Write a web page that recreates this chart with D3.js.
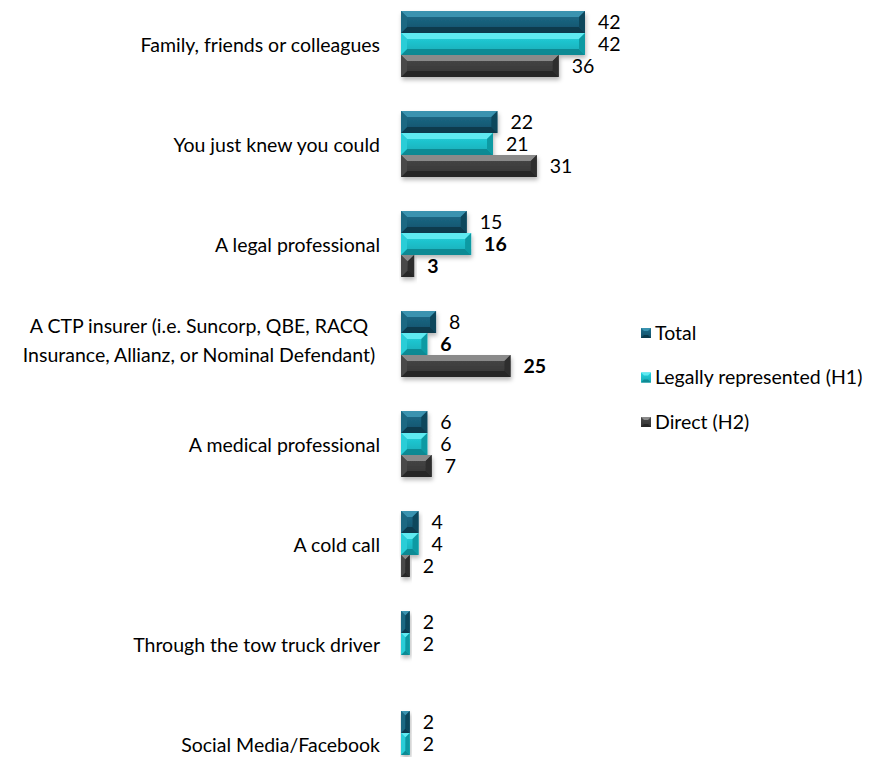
<!DOCTYPE html>
<html>
<head>
<meta charset="utf-8">
<script src="https://cdn.jsdelivr.net/npm/d3@7"></script>
<style>
  html, body { margin: 0; padding: 0; background: #ffffff; }
  svg { display: block; font-family: Lato, "Open Sans", sans-serif; }
</style>
</head>
<body>
<svg id="chart" width="873" height="757"></svg>
<script>
// Source of referral to a claim, by respondent group (%)
const categories = [
  "Family, friends or colleagues",
  "You just knew you could",
  "A legal professional",
  "A CTP insurer (i.e. Suncorp, QBE, RACQ\nInsurance, Allianz, or Nominal Defendant)",
  "A medical professional",
  "A cold call",
  "Through the tow truck driver",
  "Social Media/Facebook"
];
const seriesNames = ["Total", "Legally represented (H1)", "Direct (H2)"];
const totalValues  = [42, 22, 15, 8, 6, 4, 2, 2];
const legalValues  = [42, 21, 16, 6, 6, 4, 2, 2];
const directValues = [36, 31, 3, 25, 7, 2, null, null];
// significant differences between H1 and H2 are shown in bold
const legalBold  = [false, false, true, true, false, false, false, false];
const directBold = [false, false, true, true, false, false, false, false];

const seriesValues = [totalValues, legalValues, directValues];
const seriesBold = [categories.map(() => false), legalBold, directBold];

const FONT = 19.5;

// bevel palettes: face top/bottom gradient, light top edge, dark bottom edge, side edges
const palettes = [
  { faceTop: "#1f6f8c", faceBot: "#12506a", top: "#3a93b0", bottom: "#0b3a4d", left: "#1a6882", right: "#0e465c" },
  { faceTop: "#25d4de", faceBot: "#15a9b4", top: "#5eeaf1", bottom: "#0e8a94", left: "#2ccdd7", right: "#119aa3" },
  { faceTop: "#4a4a4a", faceBot: "#333333", top: "#8a8a8a", bottom: "#262626", left: "#4a4a4a", right: "#2d2d2d" }
];

const svg = d3.select("#chart");
const defs = svg.append("defs");

palettes.forEach((p, i) => {
  const g = defs.append("linearGradient").attr("id", "face" + i)
    .attr("x1", 0).attr("y1", 0).attr("x2", 0).attr("y2", 1);
  g.append("stop").attr("offset", "0%").attr("stop-color", p.faceTop);
  g.append("stop").attr("offset", "100%").attr("stop-color", p.faceBot);
});

const shadow = defs.append("filter").attr("id", "shadow")
  .attr("x", "-10%").attr("y", "-20%").attr("width", "130%").attr("height", "160%");
shadow.append("feDropShadow").attr("dx", 1).attr("dy", 3).attr("stdDeviation", 2)
  .attr("flood-color", "#000").attr("flood-opacity", 0.28);

const x = d3.scaleLinear().domain([0, 42]).range([401, 585]);
const y = d3.scaleBand().domain(d3.range(categories.length))
  .range([-6, 794]).paddingInner(0.34).paddingOuter(0.17);
const ySub = d3.scaleBand().domain(d3.range(seriesNames.length)).range([0, y.bandwidth()]);

// draws a bevelled rectangle (Excel style 3D bar)
function bevelBar(sel, x0, y0, w, h, p, idx) {
  const b = Math.min(6, w / 2, h / 2);
  const g = sel.append("g").attr("filter", "url(#shadow)");
  g.append("rect").attr("x", x0).attr("y", y0).attr("width", w).attr("height", h)
    .attr("fill", `url(#face${idx})`);
  const poly = (pts, fill) => g.append("polygon")
    .attr("points", pts.map(d => d.join(",")).join(" ")).attr("fill", fill);
  const x1 = x0 + w, y1 = y0 + h;
  poly([[x0, y0], [x1, y0], [x1 - b, y0 + b], [x0 + b, y0 + b]], p.top);
  poly([[x0, y1], [x1, y1], [x1 - b, y1 - b], [x0 + b, y1 - b]], p.bottom);
  poly([[x0, y0], [x0 + b, y0 + b], [x0 + b, y1 - b], [x0, y1]], p.left);
  poly([[x1, y0], [x1 - b, y0 + b], [x1 - b, y1 - b], [x1, y1]], p.right);
}

const barsLayer = svg.append("g");
const labelLayer = svg.append("g");

categories.forEach((cat, ci) => {
  seriesValues.forEach((vals, si) => {
    const v = vals[ci];
    if (v == null) return;
    const y0 = y(ci) + ySub(si);
    const h = ySub.bandwidth();
    bevelBar(barsLayer, x(0), y0, x(v) - x(0), h, palettes[si], si);
    labelLayer.append("text")
      .attr("x", x(v) + 13)
      .attr("y", y0 + h / 2)
      .attr("dy", "0.35em")
      .attr("font-size", FONT)
      .attr("font-weight", seriesBold[si][ci] ? "bold" : "normal")
      .attr("fill", "#000")
      .text(v);
  });
});

// category labels on the left
const catLayer = svg.append("g");
categories.forEach((cat, ci) => {
  const lines = cat.split("\n");
  const cy = y(ci) + y.bandwidth() / 2 + 1;
  const t = catLayer.append("text")
    .attr("font-size", FONT)
    .attr("fill", "#000")
    .attr("text-anchor", lines.length > 1 ? "middle" : "end");
  const lh = 29;
  lines.forEach((ln, li) => {
    t.append("tspan")
      .attr("x", lines.length > 1 ? 199 : 380)
      .attr("y", cy - (lines.length > 1 ? 4 : 0) + (li - (lines.length - 1) / 2) * lh)
      .attr("dy", "0.35em")
      .text(ln);
  });
});

// legend
const legend = svg.append("g");
seriesNames.forEach((name, si) => {
  const ly = 333 + si * 44.5;
  const p = palettes[si];
  const s = 10, b = 3, x0 = 641, y0 = ly - 5;
  const g = legend.append("g");
  g.append("rect").attr("x", x0).attr("y", y0).attr("width", s).attr("height", s).attr("fill", `url(#face${si})`);
  const poly = (pts, fill) => g.append("polygon").attr("points", pts.map(d => d.join(",")).join(" ")).attr("fill", fill);
  poly([[x0, y0], [x0 + s, y0], [x0 + s - b, y0 + b], [x0 + b, y0 + b]], p.top);
  poly([[x0, y0 + s], [x0 + s, y0 + s], [x0 + s - b, y0 + s - b], [x0 + b, y0 + s - b]], p.bottom);
  legend.append("text").attr("x", 655).attr("y", ly).attr("dy", "0.35em")
    .attr("font-size", FONT).attr("fill", "#000").text(name);
});
</script>
</body>
</html>
